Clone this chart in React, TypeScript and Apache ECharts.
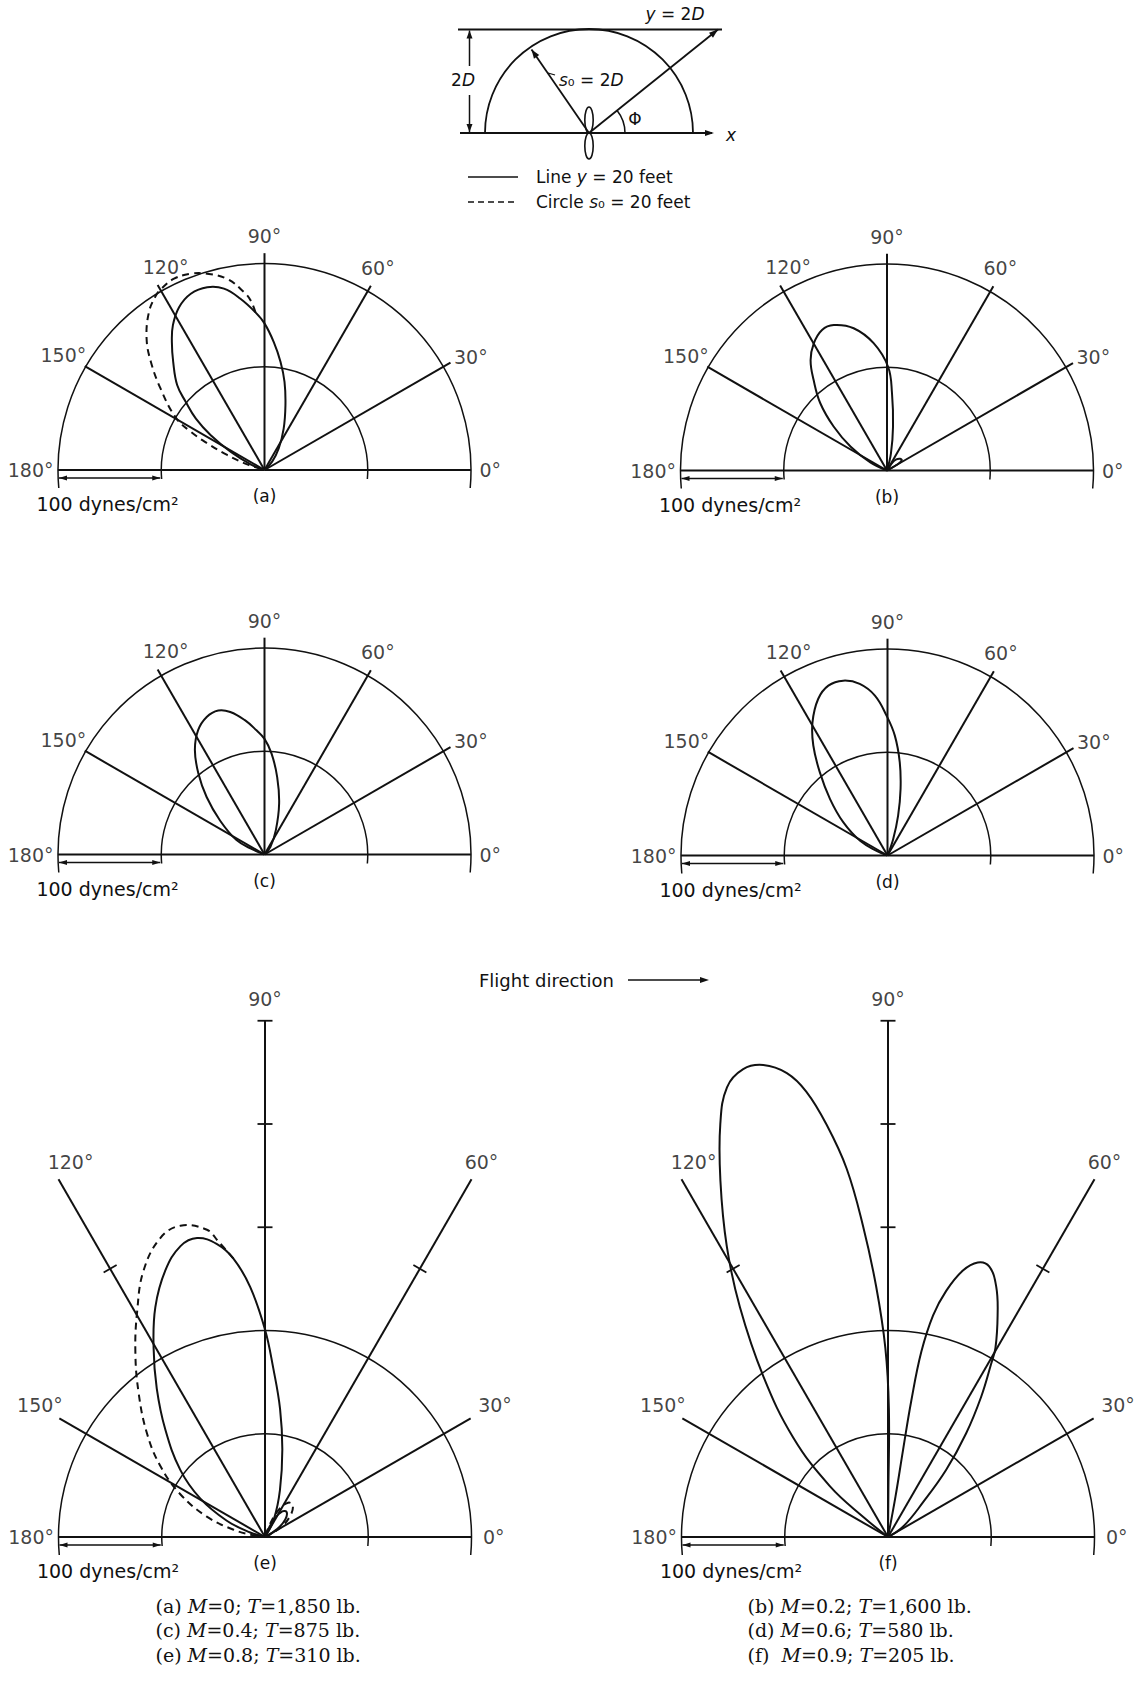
import React, { useEffect, useRef } from 'react';
import * as echarts from 'echarts';

// ---------------- data ----------------
const spokeAngles = [0, 30, 60, 90, 120, 150, 180];
const angleLabels = ['0°', '30°', '60°', '90°', '120°', '150°', '180°'];
const spokeLengthsSmall = [200, 208, 206, 210, 207, 201, 200];
const spokeLengthsLarge = [200, 230, 400, 500, 400, 230, 200];
const ringMax = 200;
const ringStep = 100;
const tickMarksLarge: [number, number][] = [[300, 60], [300, 90], [400, 90], [500, 90], [300, 120]];
const scaleBarRadii = [200, 100]; // "100 dynes/cm²" reference bar along 180°

// lobes: [pressure (dynes/cm²), angle (deg)] in traversal order
const lobeASolid = [[0, 45], [11, 47.6], [25, 56.6], [44, 65.1], [66, 72.1], [87.5, 77.2], [106, 81.6], [124, 85.8], [142, 90], [153, 93.3], [167.5, 98], [180, 102.6], [185.5, 107.4], [185, 112.7], [178, 117.7], [166, 122.3], [153, 125.9], [137, 130.2], [118, 135.8], [101, 139.1], [83, 143.2], [62, 147.1], [37, 151.7], [14, 158], [0, 160]];
const lobeADashed = [[153, 93.3], [165, 94.7], [173.5, 96.6], [188.5, 101], [198, 106.3], [203, 110.6], [205, 115.3], [202, 119.6], [199, 121.9], [189.5, 126.2], [171, 131.9], [152, 136.4], [128, 141.9], [100, 149.4], [80.5, 152.6], [61, 155], [39, 158.1], [17, 162], [0, 164]];
const lobeB = [[0, 72], [17, 77], [43, 82.2], [75, 86.3], [100.5, 89.4], [124, 96], [141.5, 103.2], [150, 110.1], [150, 114.8], [142, 120], [130, 124.7], [113, 129], [92, 134.7], [67, 140.5], [42, 146.8], [18, 154], [0, 156]];
const lobeBSmall = [[0, 25], [12, 30], [17.5, 35], [17, 42], [14, 50], [9, 56], [0, 62]];
const lobeC = [[0, 45], [9.4, 52], [26, 65], [51.4, 74], [76, 80.7], [98, 86], [112, 90], [120.5, 93.7], [131.5, 98.3], [142, 103.5], [146.5, 107.8], [144.5, 112.8], [136.5, 118.1], [121.5, 123.7], [101, 129.3], [79, 135.2], [54.5, 142.5], [30.5, 152.8], [12, 157], [0, 158]];
const lobeD = [[0, 68], [17, 71], [40, 75.1], [65.7, 78.9], [91, 82.5], [116.3, 86.5], [135.5, 90.4], [155.3, 94.5], [168.3, 99.2], [174.7, 104.2], [174.2, 109.2], [165.8, 113.9], [148, 119.4], [128.5, 124], [104, 129.1], [78, 135.5], [53.7, 143], [29.7, 152], [11, 157], [0, 159]];
const lobeESolid = [[0, 55], [19.7, 63.8], [47.6, 72.3], [86.4, 78.8], [125, 83.3], [163.7, 87.2], [201, 90], [242.7, 93.4], [271.6, 96.5], [287.5, 99.3], [297, 102.8], [293.4, 106.2], [275.6, 110.5], [246.7, 115.5], [212.6, 120.5], [177.9, 126.1], [142.2, 132.8], [104.7, 141.6], [73.1, 149.2], [40.2, 156.9], [15, 163], [0, 165]];
const lobeEDashed = [[271.6, 96.5], [290, 99], [302.8, 100.7], [312.4, 105.2], [306.8, 109.3], [283.6, 114.5], [251.4, 119.5], [218.9, 125], [185.9, 131.2], [152.2, 138.7], [122.7, 145.8], [91.9, 153.2], [59.7, 160.7], [31.2, 167], [11, 172], [0, 174]];
const lobeESmallSolid = [[0, 28], [14, 33], [26, 41], [32, 49], [30, 56], [21, 62], [9, 67], [0, 70]];
const lobeESmallDashed = [[0, 25], [17, 31], [32, 40], [41, 49], [40, 56], [30, 63], [13, 69], [0, 72]];
const lobeFBig = [[0, 89], [45, 89.5], [124, 89.6], [183, 90.8], [242.6, 92.7], [302.4, 94.6], [358.9, 96.4], [404.3, 98.5], [438.6, 100.4], [459.8, 102.3], [472.8, 104.8], [474.3, 107.2], [462.6, 109.7], [431.7, 112.1], [381.2, 115.2], [322.1, 119], [264.7, 122.8], [197, 127.8], [133.2, 133.6], [74.9, 138.8], [30, 141], [0, 143]];
const lobeFSmall = [[0, 30], [17.5, 34.3], [47.6, 44.7], [86.1, 49.1], [125.8, 53], [163.1, 56.4], [195, 59.2], [210.7, 60.4], [239.6, 63.7], [264, 66.6], [279.8, 69.5], [279.8, 71.9], [268.1, 74.3], [245, 76.7], [219.1, 78.5], [182.2, 79.8], [133.9, 80.3], [86.2, 80.2], [40, 79.5], [0, 79]];

const panelTags = ['(a)', '(b)', '(c)', '(d)', '(e)', '(f)'];
const captionM = ['0', '0.2', '0.4', '0.6', '0.8', '0.9'];
const captionT = ['1,850', '1,600', '875', '580', '310', '205'];

// ---------------- layout / style ----------------
const W = 1139;
const H = 1682;
const INK = '#111111';
const PX = 206.5 / 200; // px per dyne/cm²
const SANS = 'DejaVu Sans';
const SERIF = 'DejaVu Serif';

type Lobe = { data: number[][]; dashed?: boolean };
const panels: { cx: number; cy: number; big: boolean; lobes: Lobe[] }[] = [
  { cx: 264.5, cy: 470, big: false, lobes: [{ data: lobeASolid }, { data: lobeADashed, dashed: true }] },
  { cx: 887, cy: 470.5, big: false, lobes: [{ data: lobeB }, { data: lobeBSmall }] },
  { cx: 264.5, cy: 854.5, big: false, lobes: [{ data: lobeC }] },
  { cx: 887.5, cy: 855.5, big: false, lobes: [{ data: lobeD }] },
  { cx: 265, cy: 1537, big: true, lobes: [{ data: lobeESolid }, { data: lobeEDashed, dashed: true }, { data: lobeESmallSolid }, { data: lobeESmallDashed, dashed: true }] },
  { cx: 888, cy: 1537, big: true, lobes: [{ data: lobeFBig }, { data: lobeFSmall }] },
];

const labelPlaceSmall: Record<number, any> = {
  0: { position: 'right', distance: 8, offset: [0, 0] },
  30: { position: 'right', distance: 3, offset: [0, -6] },
  60: { position: 'top', distance: 8, offset: [7, 0] },
  90: { position: 'top', distance: 7, offset: [0, 0] },
  120: { position: 'top', distance: 8, offset: [8, 0] },
  150: { position: 'left', distance: 0, offset: [2, -11] },
  180: { position: 'left', distance: 4, offset: [0, 0] },
};
const labelPlaceLarge: Record<number, any> = {
  0: { position: 'right', distance: 11, offset: [0, 0] },
  30: { position: 'right', distance: 7, offset: [0, -13] },
  60: { position: 'top', distance: 7, offset: [10, 0] },
  90: { position: 'top', distance: 12, offset: [0, 0] },
  120: { position: 'top', distance: 7, offset: [12, 0] },
  150: { position: 'left', distance: 0, offset: [4, -13] },
  180: { position: 'left', distance: 4, offset: [0, 0] },
};

const captionX = [155.5, 747.5];
const captionY = [1605.5, 1630, 1655];

function arrowHead(x1: number, y1: number, x2: number, y2: number, len = 8, half = 3) {
  const dx = x2 - x1, dy = y2 - y1;
  const d = Math.sqrt(dx * dx + dy * dy) || 1;
  const ux = dx / d, uy = dy / d;
  const bx = x2 - ux * len, by = y2 - uy * len;
  return {
    type: 'polygon',
    shape: { points: [[x2, y2], [bx - uy * half, by + ux * half], [bx + uy * half, by - ux * half]] },
    style: { fill: INK, stroke: null },
    silent: true,
  };
}

function line(x1: number, y1: number, x2: number, y2: number, w = 1.8, dash?: number[]) {
  return {
    type: 'line',
    shape: { x1, y1, x2, y2 },
    style: { stroke: INK, lineWidth: w, lineDash: dash || null },
    silent: true,
  };
}

function richText(x: number, y: number, text: string, size: number, family: string, align = 'left') {
  return {
    type: 'text',
    x,
    y,
    silent: true,
    style: {
      text,
      fill: INK,
      fontSize: size,
      fontFamily: family,
      textAlign: align,
      align,
      textVerticalAlign: 'middle',
      verticalAlign: 'middle',
      rich: {
        n: { fontSize: size, fontFamily: family, fill: INK, color: INK },
        i: { fontSize: size, fontFamily: family, fontStyle: 'italic', fill: INK, color: INK },
      },
    },
  };
}

function buildOption() {
  const polar: any[] = [];
  const angleAxis: any[] = [];
  const radiusAxis: any[] = [];
  const series: any[] = [];
  const graphic: any[] = [];

  panels.forEach((p, i) => {
    polar.push({ center: [p.cx, p.cy], radius: ringMax * PX });
    angleAxis.push({
      polarIndex: i, type: 'value', min: -5, max: 185, startAngle: -5, endAngle: 185, clockwise: false,
      axisLine: { show: false }, axisTick: { show: false }, axisLabel: { show: false }, splitLine: { show: false },
    });
    radiusAxis.push({
      polarIndex: i, type: 'value', min: 0, max: ringMax, interval: ringStep,
      axisLine: { show: false }, axisTick: { show: false }, axisLabel: { show: false },
      splitLine: { show: true, lineStyle: { color: INK, width: 1.5 } },
    });

    const lens = p.big ? spokeLengthsLarge : spokeLengthsSmall;
    const place = p.big ? labelPlaceLarge : labelPlaceSmall;

    // radial lines
    series.push({
      type: 'custom', coordinateSystem: 'polar', polarIndex: i, silent: true, z: 2,
      data: spokeAngles.map((a, k) => [lens[k], a]),
      renderItem: (params: any, api: any) => {
        const r = api.value(0), a = api.value(1);
        const o = api.coord([0, a]);
        const e = api.coord([r, a]);
        return { type: 'line', shape: { x1: o[0], y1: o[1], x2: e[0], y2: e[1] }, style: { stroke: INK, lineWidth: 2 } };
      },
    });

    // angle labels
    series.push({
      type: 'scatter', coordinateSystem: 'polar', polarIndex: i, symbolSize: 1, silent: true, clip: false,
      itemStyle: { color: 'rgba(0,0,0,0)' },
      label: { show: true, color: INK, fontFamily: SANS, fontSize: 19 },
      data: spokeAngles.map((a, k) => ({
        value: [lens[k], a],
        label: { show: true, formatter: angleLabels[k], ...place[a] },
      })),
    });

    // tick marks on the long radial lines
    if (p.big) {
      series.push({
        type: 'custom', coordinateSystem: 'polar', polarIndex: i, silent: true, z: 2,
        data: tickMarksLarge,
        renderItem: (params: any, api: any) => {
          const r = api.value(0), a = api.value(1);
          const c = api.coord([r, a]);
          const rad = (a * Math.PI) / 180;
          const px = Math.sin(rad) * 7.5, py = Math.cos(rad) * 7.5;
          return { type: 'line', shape: { x1: c[0] - px, y1: c[1] - py, x2: c[0] + px, y2: c[1] + py }, style: { stroke: INK, lineWidth: 1.8 } };
        },
      });
    }

    // 100 dynes/cm² scale bar
    series.push({
      type: 'custom', coordinateSystem: 'polar', polarIndex: i, silent: true, z: 2,
      data: scaleBarRadii.map((r) => [r, 180]),
      renderItem: (params: any, api: any) => {
        if (params.dataIndex !== 0) return null;
        const a = api.coord([scaleBarRadii[0], 180]);
        const b = api.coord([scaleBarRadii[1], 180]);
        const y = a[1] + 8;
        return {
          type: 'group',
          children: [
            { type: 'line', shape: { x1: a[0] + 1, y1: y, x2: b[0] - 1, y2: y }, style: { stroke: INK, lineWidth: 1.3 } },
            arrowHead(a[0] + 10, y, a[0] + 1, y, 8, 2.6),
            arrowHead(b[0] - 10, y, b[0] - 1, y, 8, 2.6),
          ],
        };
      },
    });

    // lobes
    p.lobes.forEach((l) => {
      const pts = l.data;
      series.push({
        type: 'custom', coordinateSystem: 'polar', polarIndex: i, silent: true, z: 3,
        data: pts,
        renderItem: (params: any, api: any) => {
          if (params.dataIndex !== 0) return null;
          const xy = pts.map((d) => api.coord(d));
          return {
            type: 'polyline',
            shape: { points: xy, smooth: 0.4 },
            style: { stroke: INK, lineWidth: 2, fill: 'none', lineDash: l.dashed ? [7, 5] : null },
          };
        },
      });
    });

    graphic.push(richText(p.cx, p.cy + 26, '{n|' + panelTags[i] + '}', 17, SANS, 'center'));
    graphic.push(richText(p.cx - 157, p.cy + 34, '{n|100 dynes/cm²}', 19, SANS, 'center'));
  });

  // ---- top diagram ----
  const cx = 589, cy = 133, r = 104, topY = 29.5;
  graphic.push(line(458, topY, 722, topY));
  graphic.push(richText(675, 14, '{i|y}{n| = 2}{i|D}', 17, SANS, 'center'));
  graphic.push({
    type: 'arc', silent: true,
    shape: { cx, cy, r, startAngle: Math.PI, endAngle: 2 * Math.PI, clockwise: true },
    style: { stroke: INK, lineWidth: 1.8, fill: null },
  });
  graphic.push(line(460, cy, 712, cy));
  graphic.push(arrowHead(700, cy, 714, cy, 9, 3));
  graphic.push(richText(726, cy + 2, '{i|x}', 17, SANS, 'left'));
  // 2D dimension
  graphic.push(line(469.5, topY + 1, 469.5, 66, 1.5));
  graphic.push(line(469.5, 95, 469.5, cy - 1, 1.5));
  graphic.push(arrowHead(469.5, 45, 469.5, topY + 1, 8, 3));
  graphic.push(arrowHead(469.5, 120, 469.5, cy - 1, 8, 3));
  graphic.push(richText(463, 80, '{n|2}{i|D}', 17, SANS, 'center'));
  // s0 radius
  graphic.push(line(cx, cy, 531.5, 49.5));
  graphic.push(arrowHead(cx, cy, 531.5, 49.5, 9, 3.2));
  graphic.push(line(548, 73, 555, 75, 1.2));
  graphic.push(richText(559, 80, '{i|s}{n|₀ = 2}{i|D}', 17, SANS, 'left'));
  // slant line to y = 2D
  graphic.push(line(cx, cy, 718, topY));
  graphic.push(arrowHead(cx, cy, 718, topY, 9, 3.2));
  const phi = Math.atan2(cy - topY, 718 - cx);
  graphic.push({
    type: 'arc', silent: true,
    shape: { cx, cy, r: 36, startAngle: -phi, endAngle: 0, clockwise: true },
    style: { stroke: INK, lineWidth: 1.5, fill: null },
  });
  graphic.push(richText(635, 119, '{n|Φ}', 17, SANS, 'center'));
  // propeller figure
  graphic.push({ type: 'ellipse', silent: true, shape: { cx, cy: cy - 13, rx: 4.2, ry: 13 }, style: { stroke: INK, lineWidth: 1.6, fill: null } });
  graphic.push({ type: 'ellipse', silent: true, shape: { cx, cy: cy + 13, rx: 4.2, ry: 13 }, style: { stroke: INK, lineWidth: 1.6, fill: null } });
  // legend
  graphic.push(line(468, 177, 518, 177, 1.6));
  graphic.push(richText(536, 177, '{n|Line }{i|y}{n| = 20 feet}', 17, SANS, 'left'));
  graphic.push(line(468, 202, 518, 202, 1.6, [6, 4]));
  graphic.push(richText(536, 202, '{n|Circle }{i|s}{n|₀ = 20 feet}', 17, SANS, 'left'));

  // flight direction
  graphic.push(richText(479, 980, '{n|Flight direction}', 18, SANS, 'left'));
  graphic.push(line(628, 980, 706, 980, 1.3));
  graphic.push(arrowHead(690, 980, 709, 980, 9, 3));

  // captions
  captionM.forEach((m, k) => {
    const col = k % 2;
    const row = Math.floor(k / 2);
    const gap = k === 5 ? '  ' : ' ';
    graphic.push(
      richText(captionX[col], captionY[row], '{n|' + panelTags[k] + gap + '}{i|M}{n|=' + m + '; }{i|T}{n|=' + captionT[k] + ' lb.}', 19, SERIF, 'left')
    );
  });

  return {
    animation: false,
    backgroundColor: '#ffffff',
    polar,
    angleAxis,
    radiusAxis,
    series,
    graphic: { elements: graphic },
  };
}

export default function App() {
  const ref = useRef<HTMLDivElement>(null);
  useEffect(() => {
    if (!ref.current) return;
    const chart = echarts.init(ref.current, null, { renderer: 'svg' });
    chart.setOption(buildOption() as any);
    return () => chart.dispose();
  }, []);
  return (
    <div
      ref={ref}
      style={{ position: 'absolute', left: 0, top: 0, width: W, height: H, background: '#fff' }}
    />
  );
}
